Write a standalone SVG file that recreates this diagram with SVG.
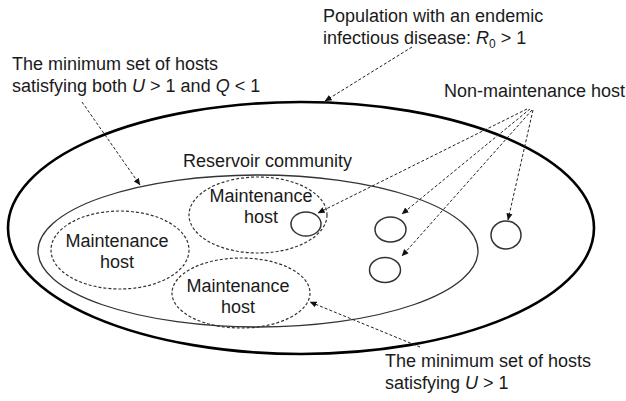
<svg xmlns="http://www.w3.org/2000/svg" width="626" height="401" viewBox="0 0 626 401">
<defs>
<marker id="ah" viewBox="0 0 8 8" refX="7.5" refY="4" markerWidth="7" markerHeight="7" markerUnits="userSpaceOnUse" orient="auto">
<path d="M0,0.5 L8,4 L0,7.5 Z" fill="#111"/>
</marker>
<style>
text{font-family:"Liberation Sans",Arial,sans-serif;font-size:18px;fill:#1a1a1a}
.lbl{text-anchor:middle}
.it{font-style:italic}
.outer{fill:none;stroke:#000;stroke-width:2.6}
.inner{fill:none;stroke:#333;stroke-width:1.3}
.maint{fill:none;stroke:#333;stroke-width:1.2;stroke-dasharray:3 2}
.host{fill:none;stroke:#333;stroke-width:1.5}
.conn{fill:none;stroke:#222;stroke-width:1;stroke-dasharray:3 2;marker-end:url(#ah)}
</style>
</defs>
<rect width="626" height="401" fill="#fff"/>

<g id="population">
<ellipse class="outer" cx="301" cy="228" rx="293" ry="126"/>
<text x="323" y="22">Population with an endemic</text>
<text x="323" y="44">infectious disease: <tspan class="it">R</tspan><tspan font-size="12" dy="4">0</tspan><tspan dy="-4"> &gt; 1</tspan></text>
</g>

<g id="reservoir">
<ellipse class="inner" cx="258" cy="251" rx="220" ry="76"/>
<text x="183" y="167">Reservoir community</text>
</g>

<g id="label-uq">
<text x="12" y="70">The minimum set of hosts</text>
<text x="12" y="92">satisfying both <tspan class="it">U</tspan> &gt; 1 and <tspan class="it">Q</tspan> &lt; 1</text>
</g>

<g id="label-u">
<text x="385" y="367">The minimum set of hosts</text>
<text x="385" y="389">satisfying <tspan class="it">U</tspan> &gt; 1</text>
</g>

<g id="label-nonmaint">
<text x="444" y="97">Non-maintenance host</text>
</g>

<g id="maint-top">
<ellipse class="maint" cx="258" cy="215" rx="69" ry="38"/>
<text class="lbl" x="261" y="202">Maintenance</text>
<text class="lbl" x="261" y="223">host</text>
</g>

<g id="maint-left">
<ellipse class="maint" cx="120" cy="250" rx="69" ry="39"/>
<text class="lbl" x="117" y="247">Maintenance</text>
<text class="lbl" x="117" y="268">host</text>
</g>

<g id="maint-bottom">
<ellipse class="maint" cx="241" cy="293" rx="69" ry="35"/>
<text class="lbl" x="238" y="292">Maintenance</text>
<text class="lbl" x="238" y="313">host</text>
</g>

<g id="host1"><ellipse class="host" cx="306" cy="224" rx="15" ry="12"/></g>
<g id="host2"><ellipse class="host" cx="390.5" cy="229.5" rx="15.5" ry="12.5"/></g>
<g id="host3"><ellipse class="host" cx="385" cy="270" rx="15.5" ry="12.5"/></g>
<g id="host4"><ellipse class="host" cx="506" cy="235" rx="15" ry="14"/></g>

<g id="connectors">
<path class="conn" d="M412,47 L325,101"/>
<path class="conn" d="M82,102 L140,185"/>
<path class="conn" d="M527,109 L318,213"/>
<path class="conn" d="M530,109 L402,214"/>
<path class="conn" d="M532,110 L402,256"/>
<path class="conn" d="M533,110 L508,220"/>
<path class="conn" d="M420,347 L310,302"/>
</g>
</svg>
